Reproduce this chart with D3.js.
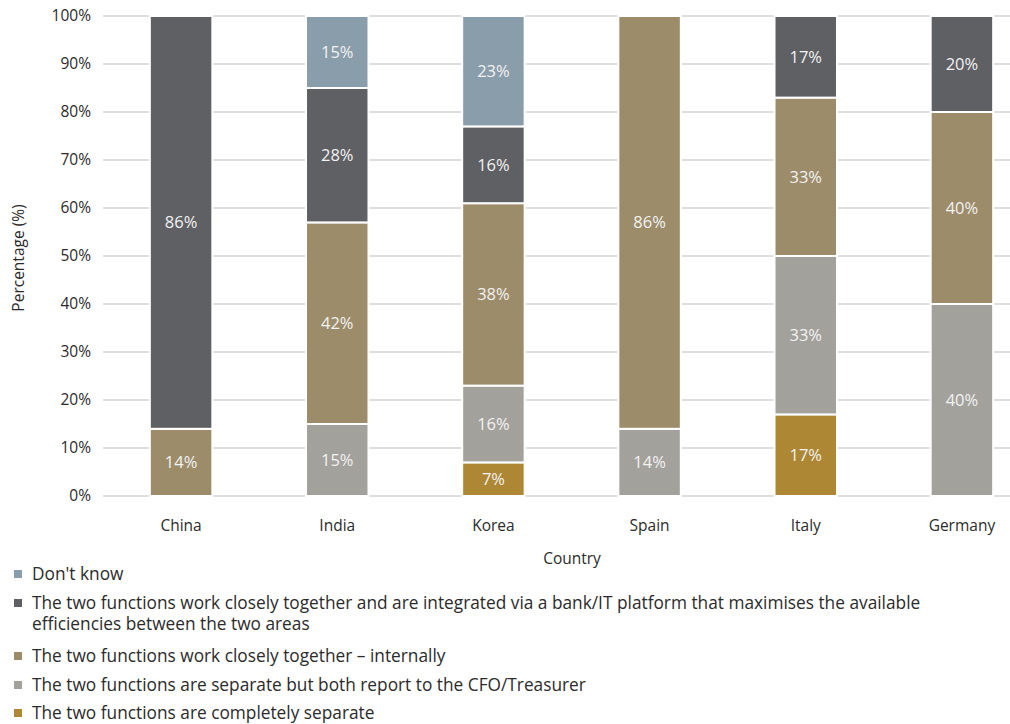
<!DOCTYPE html>
<html>
<head>
<meta charset="utf-8">
<script src="https://cdn.jsdelivr.net/npm/d3@7"></script>
<style>
  html, body { margin: 0; padding: 0; background: #fff; }
  svg { display: block; font-family: "Open Sans", "Noto Sans", sans-serif; }
</style>
</head>
<body>
<svg id="chart" width="1010" height="724"></svg>
<script>
// Countries along the x axis
const countries = ["China", "India", "Korea", "Spain", "Italy", "Germany"];

// Answer categories, stacked from the bottom up
const seriesNames = [
  "The two functions are completely separate",
  "The two functions are separate but both report to the CFO/Treasurer",
  "The two functions work closely together \u2013 internally",
  "The two functions work closely together and are integrated via a bank/IT platform that maximises the available efficiencies between the two areas",
  "Don't know"
];

// Share of respondents (%) per country, one array per answer
const completelySeparate = [0, 0, 7, 0, 17, 0];
const separateReportCFO  = [0, 15, 16, 14, 33, 40];
const internally         = [14, 42, 38, 86, 33, 40];
const integratedPlatform = [86, 28, 16, 0, 17, 20];
const dontKnow           = [0, 15, 23, 0, 0, 0];

const yTicks = [0, 10, 20, 30, 40, 50, 60, 70, 80, 90, 100];

const seriesValues = [completelySeparate, separateReportCFO, internally, integratedPlatform, dontKnow];
const colors = ["#ad8733", "#a3a19c", "#9c8c6a", "#5f6064", "#8a9dab"];

// Legend lists the series from top of the stack down
const legendOrder = [4, 3, 2, 1, 0];
const legendLines = {
  4: ["Don't know"],
  3: ["The two functions work closely together and are integrated via a bank/IT platform that maximises the available",
      "efficiencies between the two areas"],
  2: ["The two functions work closely together \u2013 internally"],
  1: ["The two functions are separate but both report to the CFO/Treasurer"],
  0: ["The two functions are completely separate"]
};

const rows = countries.map((c, i) => {
  const r = { country: c };
  seriesNames.forEach((s, k) => { r[s] = seriesValues[k][i]; });
  return r;
});

const stacked = d3.stack().keys(seriesNames)(rows);

const svg = d3.select("#chart");

const x = d3.scaleBand()
  .domain(countries)
  .range([103, 1040])
  .paddingInner(0.6)
  .paddingOuter(0.3);

const y = d3.scaleLinear().domain([0, 100]).range([496, 16]);

// Horizontal grid
svg.append("g")
  .selectAll("line")
  .data(yTicks)
  .join("line")
  .attr("x1", 103).attr("x2", 1010)
  .attr("y1", d => y(d)).attr("y2", d => y(d))
  .attr("stroke", "#d4d4d4").attr("stroke-width", 1.3);

// Y axis tick labels
const yAxis = svg.append("g")
  .attr("transform", "translate(103,0)")
  .call(d3.axisLeft(y).tickValues(yTicks).tickFormat(d => d + "%").tickSize(0).tickPadding(12));
yAxis.select(".domain").remove();
yAxis.selectAll("text").attr("font-size", 15.5).attr("fill", "#2b2b2b").attr("font-family", "'Open Sans', sans-serif");

// X axis labels
const xAxis = svg.append("g")
  .attr("transform", "translate(0,496)")
  .call(d3.axisBottom(x).tickSize(0).tickPadding(24));
xAxis.select(".domain").remove();
xAxis.selectAll("text").attr("font-size", 15.5).attr("fill", "#2b2b2b").attr("font-family", "'Open Sans', sans-serif");

// Stacked bars
const layers = svg.append("g")
  .selectAll("g")
  .data(stacked)
  .join("g")
  .attr("fill", (d, i) => colors[i]);

layers.selectAll("rect")
  .data(d => d.filter(p => p[1] - p[0] > 0).map(p => ({ p, key: d.key })))
  .join("rect")
  .attr("x", d => x(d.p.data.country))
  .attr("width", x.bandwidth())
  .attr("y", d => y(d.p[1]))
  .attr("height", d => y(d.p[0]) - y(d.p[1]))
  .attr("stroke", "#fff")
  .attr("stroke-width", 2);

// Value labels inside segments
layers.selectAll("text")
  .data(d => d.filter(p => p[1] - p[0] > 0).map(p => ({ p, key: d.key })))
  .join("text")
  .attr("x", d => x(d.p.data.country) + x.bandwidth() / 2)
  .attr("y", d => (y(d.p[0]) + y(d.p[1])) / 2)
  .attr("dy", "0.36em")
  .attr("text-anchor", "middle")
  .attr("font-size", 16.5)
  .attr("fill", "#f2f2f2")
  .text(d => (d.p[1] - d.p[0]) + "%");

// Axis titles
svg.append("text")
  .attr("x", 572).attr("y", 564)
  .attr("text-anchor", "middle")
  .attr("font-size", 15.5).attr("fill", "#2b2b2b")
  .text("Country");

svg.append("text")
  .attr("transform", "translate(24,258) rotate(-90)")
  .attr("text-anchor", "middle")
  .attr("font-size", 15.5).attr("fill", "#2b2b2b")
  .text("Percentage (%)");

// Legend
const legendTop = [574, 603, 656, 685, 713];
const legend = svg.append("g");
legendOrder.forEach((k, j) => {
  const cy = legendTop[j];
  legend.append("rect")
    .attr("x", 14).attr("y", cy - 4)
    .attr("width", 8).attr("height", 8)
    .attr("fill", colors[k]);
  legendLines[k].forEach((line, li) => {
    legend.append("text")
      .attr("x", 32).attr("y", cy + li * 21)
      .attr("dy", "0.35em")
      .attr("font-size", 17.3).attr("fill", "#2b2b2b")
      .text(line);
  });
});
</script>
</body>
</html>
